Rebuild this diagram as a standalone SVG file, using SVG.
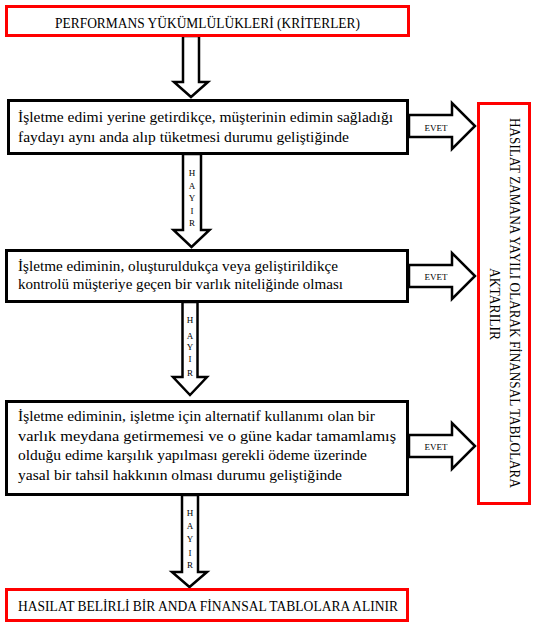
<svg xmlns="http://www.w3.org/2000/svg" width="537" height="626" viewBox="0 0 537 626">
<style>
.red{fill:#fff;stroke:#ff0000;stroke-width:3}
.blk{fill:#fff;stroke:#000;stroke-width:3}
.arr{fill:#fff;stroke:#000;stroke-width:2.5;stroke-linejoin:miter}
.t{font-family:"Liberation Serif","DejaVu Serif",serif;font-size:15px;fill:#000}
.cap{font-family:"Liberation Serif","DejaVu Serif",serif;font-size:15px;fill:#000}
.sm{font-family:"Liberation Serif","DejaVu Serif",serif;font-size:9px;fill:#000;text-anchor:middle}
</style>
<rect width="537" height="626" fill="#fff"/>
<g id="connectors">
  <polygon class="arr" points="183,36 183,82 174,82 191,97 208,82 199,82 199,36"/>
  <polygon class="arr" points="183,154 183,230 173.5,230 191.5,247 209.5,230 201,230 201,154"/>
  <polygon class="arr" points="182.5,302 182.5,377 173,377 190,395 207,377 197.5,377 197.5,302"/>
  <polygon class="arr" points="182,495 182,572 172,572 189.5,587 207,572 198,572 198,495"/>
  <polygon class="arr" points="409,115 452,115 452,103 475,126 452,149 452,137 409,137"/>
  <polygon class="arr" points="409,265 452,265 452,253 475,276 452,299 452,287 409,287"/>
  <polygon class="arr" points="409,435 452,435 452,423 475,446 452,469 452,457 409,457"/>
  <g class="sm">
    <text x="192" y="176">H</text><text x="192" y="189">A</text><text x="192" y="201">Y</text><text x="192" y="214">I</text><text x="192" y="226">R</text>
    <text x="190" y="323">H</text><text x="190" y="339">A</text><text x="190" y="350">Y</text><text x="190" y="362">I</text><text x="190" y="376">R</text>
    <text x="190" y="516">H</text><text x="190" y="529">A</text><text x="190" y="542">Y</text><text x="190" y="556">I</text><text x="190" y="568">R</text>
    <text x="436" y="131">EVET</text>
    <text x="436" y="280">EVET</text>
    <text x="436" y="450">EVET</text>
  </g>
</g>
<g id="node-top">
  <rect class="red" x="6.5" y="6.5" width="402" height="29"/>
  <text class="cap" x="55" y="28" textLength="305" lengthAdjust="spacingAndGlyphs">PERFORMANS YÜKÜMLÜLÜKLERİ (KRİTERLER)</text>
</g>
<g id="node-1">
  <rect class="blk" x="8.5" y="100.5" width="399" height="53"/>
  <text class="t" x="18" y="122" textLength="375" lengthAdjust="spacingAndGlyphs">İşletme edimi yerine getirdikçe, müşterinin edimin sağladığı</text>
  <text class="t" x="18" y="142" textLength="331" lengthAdjust="spacingAndGlyphs">faydayı aynı anda alıp tüketmesi durumu geliştiğinde</text>
</g>
<g id="node-2">
  <rect class="blk" x="6.5" y="250.5" width="401" height="51"/>
  <text class="t" x="18" y="270.5" textLength="320" lengthAdjust="spacingAndGlyphs">İşletme ediminin, oluşturuldukça veya geliştirildikçe</text>
  <text class="t" x="18" y="289" textLength="325" lengthAdjust="spacingAndGlyphs">kontrolü müşteriye geçen bir varlık niteliğinde olması</text>
</g>
<g id="node-3">
  <rect class="blk" x="6.5" y="401.5" width="401" height="93"/>
  <text class="t" x="18" y="421" textLength="357" lengthAdjust="spacingAndGlyphs">İşletme ediminin, işletme için alternatif kullanımı olan bir</text>
  <text class="t" x="18" y="441" textLength="378" lengthAdjust="spacingAndGlyphs">varlık meydana getirmemesi ve o güne kadar tamamlamış</text>
  <text class="t" x="18" y="460" textLength="349" lengthAdjust="spacingAndGlyphs">olduğu edime karşılık yapılması gerekli ödeme üzerinde</text>
  <text class="t" x="18" y="479.5" textLength="324" lengthAdjust="spacingAndGlyphs">yasal bir tahsil hakkının olması durumu geliştiğinde</text>
</g>
<g id="node-right">
  <rect class="red" x="478.5" y="103.5" width="51" height="400"/>
  <text class="cap" transform="translate(515,303) rotate(90)" x="0" y="5" text-anchor="middle" textLength="370" lengthAdjust="spacingAndGlyphs">HASILAT ZAMANA YAYILI OLARAK FİNANSAL TABLOLARA</text>
  <text class="cap" transform="translate(495,304) rotate(90)" x="0" y="5" text-anchor="middle" textLength="72" lengthAdjust="spacingAndGlyphs">AKTARILIR</text>
</g>
<g id="node-bottom">
  <rect class="red" x="6.5" y="589.5" width="401" height="31"/>
  <text class="cap" x="18" y="611" textLength="380" lengthAdjust="spacingAndGlyphs">HASILAT BELİRLİ BİR ANDA FİNANSAL TABLOLARA ALINIR</text>
</g>
</svg>
